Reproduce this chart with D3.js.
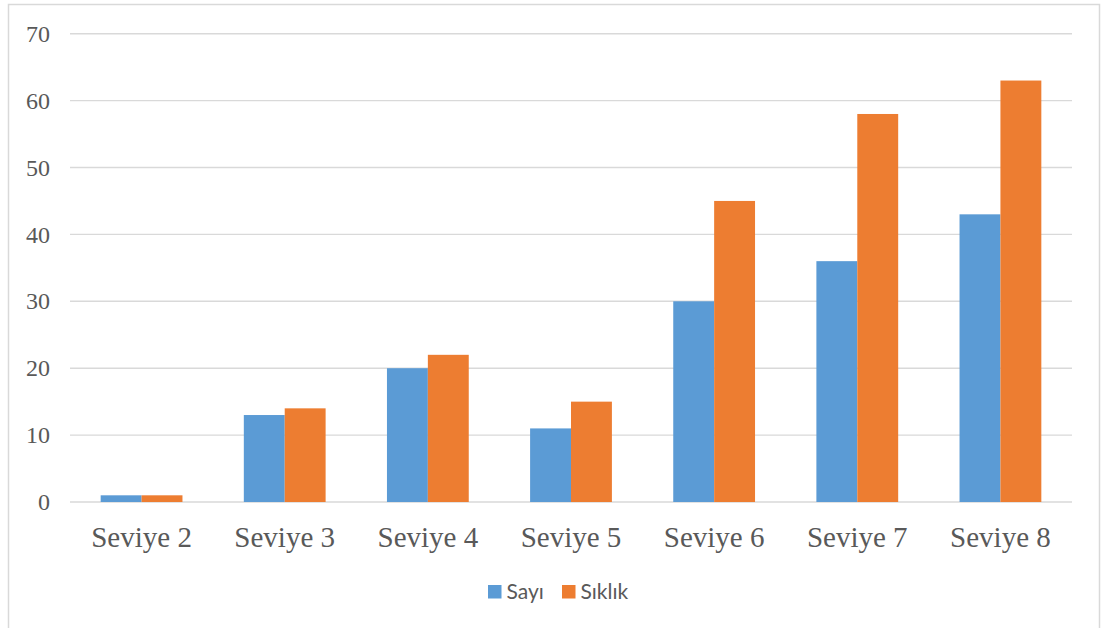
<!DOCTYPE html>
<html><head><meta charset="utf-8">
<script src="https://cdn.jsdelivr.net/npm/d3@7"></script>
<style>body{margin:0;background:#fff}svg{display:block}</style>
</head><body>
<svg id="c" width="1103" height="628"></svg>
<script>
const categories = ["Seviye 2","Seviye 3","Seviye 4","Seviye 5","Seviye 6","Seviye 7","Seviye 8"];
const seriesNames = ["Sayı","Sıklık"];
const sayi = [1,13,20,11,30,36,43];
const siklik = [1,14,22,15,45,58,63];
const yTicks = [0,10,20,30,40,50,60,70];
const colors = ["#5B9BD5","#ED7D31"];

const svg = d3.select("#c");
svg.append("rect").attr("x",8.5).attr("y",4.5).attr("width",1091).attr("height",640)
  .attr("fill","#fff").attr("stroke","#D9D9D9").attr("stroke-width",1.5);

const pLeft=70,pRight=1072,pTop=33.7,pBottom=502;
const x = d3.scaleBand().domain(categories).range([pLeft,pRight]).paddingInner(150/350).paddingOuter(75/350);
const xs = d3.scaleBand().domain(seriesNames).range([0,x.bandwidth()]);
const y = d3.scaleLinear().domain([0,70]).range([pBottom,pTop]);

const grid = svg.append("g");
grid.selectAll("line").data(yTicks).join("line")
  .attr("x1",pLeft).attr("x2",pRight).attr("y1",d=>y(d)).attr("y2",d=>y(d))
  .attr("stroke","#D9D9D9").attr("stroke-width",1.4);

const yAxis = svg.append("g").attr("transform",`translate(${pLeft},0)`)
  .call(d3.axisLeft(y).tickValues(yTicks).tickSize(0).tickPadding(20));
yAxis.attr("font-family","'Liberation Serif','Times New Roman',serif");
yAxis.select(".domain").remove();
yAxis.selectAll("text").attr("font-family","'Liberation Serif','Times New Roman',serif")
  .attr("font-size",24).attr("fill","#595959");

const data = categories.map((c,i)=>({c, vals:[sayi[i],siklik[i]]}));
const g = svg.append("g");
g.selectAll("g").data(data).join("g").attr("transform",d=>`translate(${x(d.c)},0)`)
  .selectAll("rect").data(d=>d.vals.map((v,j)=>({s:seriesNames[j],v,j}))).join("rect")
  .attr("x",d=>xs(d.s)).attr("width",xs.bandwidth())
  .attr("y",d=>y(d.v)).attr("height",d=>y(0)-y(d.v))
  .attr("fill",d=>colors[d.j]);

const xAxis = svg.append("g").attr("transform",`translate(0,${pBottom})`)
  .call(d3.axisBottom(x).tickSize(0).tickPadding(24));
xAxis.attr("font-family","'Liberation Serif','Times New Roman',serif");
xAxis.select(".domain").remove();
xAxis.selectAll("text").attr("font-family","'Liberation Serif','Times New Roman',serif")
  .attr("font-size",29).attr("fill","#595959");

const legend = svg.append("g");
const lx=[488,562];
seriesNames.forEach((n,i)=>{
  legend.append("rect").attr("x",lx[i]).attr("y",585).attr("width",13.5).attr("height",13.5).attr("fill",colors[i]);
  legend.append("text").attr("x",lx[i]+18.5).attr("y",599).text(n)
    .attr("font-family","Lato,'Open Sans',sans-serif").attr("font-size",21).attr("fill","#595959");
});
</script>
</body></html>
